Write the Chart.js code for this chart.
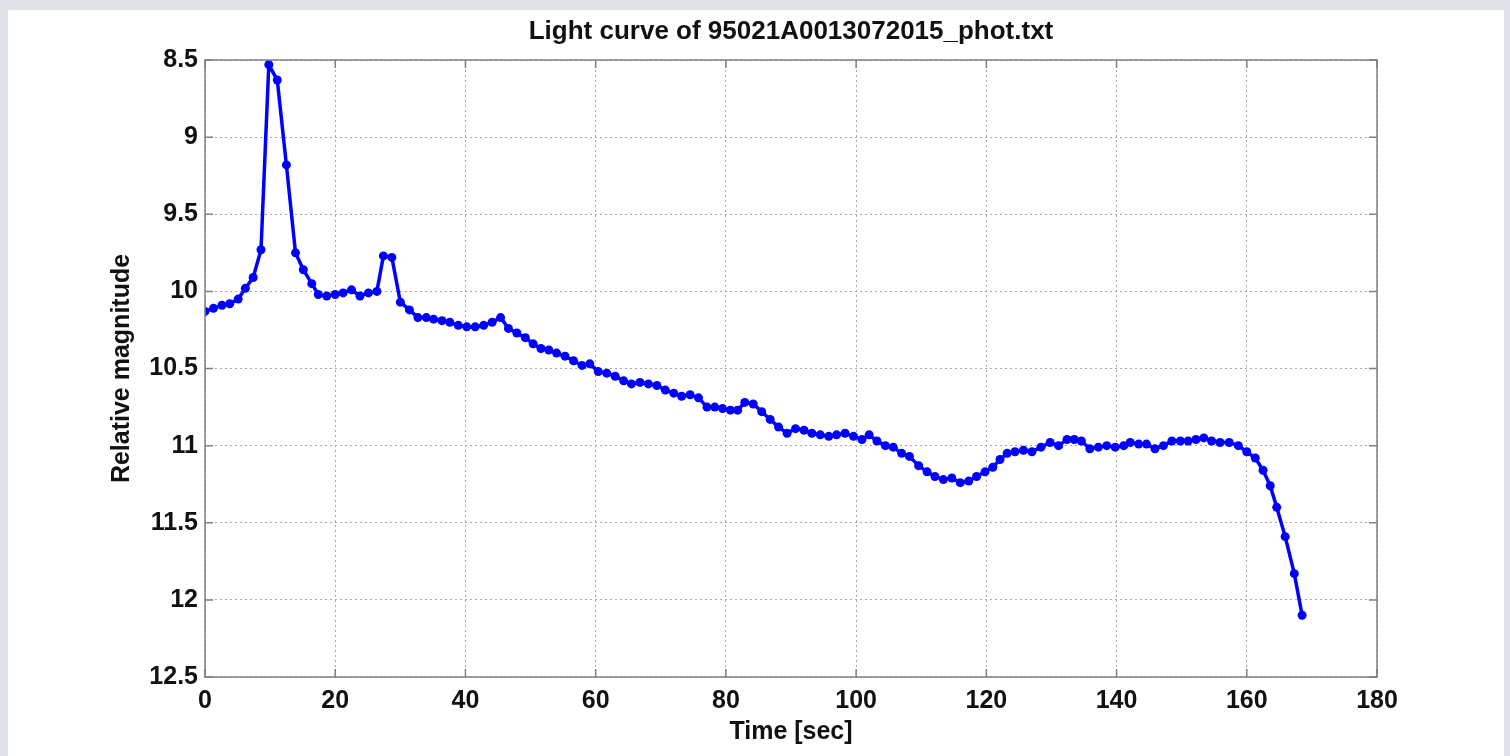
<!DOCTYPE html>
<html>
<head>
<meta charset="utf-8">
<script src="https://cdn.jsdelivr.net/npm/chart.js@4"></script>
<style>
  html, body { margin: 0; padding: 0; background: #dfe3e8; overflow: hidden; }
  #panel { position: absolute; left: 8px; top: 10px; right: 6px; bottom: 0; background: #ffffff; }
  #wrap { position: absolute; left: 0; top: 0; width: 1510px; height: 756px; }
</style>
</head>
<body>
<div id="panel"></div>
<div id="wrap"><canvas id="Grafico" width="1510" height="756"></canvas></div>
<script>
const titulo = 'Light curve of 95021A0013072015_phot.txt';
const etiqueta_x = 'Time [sec]';
const etiqueta_y = 'Relative magnitude';

const tiempos = [
    0, 1.3, 2.6, 3.8, 5.1, 6.2, 7.4, 8.6, 9.8, 11.1, 12.5, 13.9, 15.1, 16.4, 17.4, 18.7,
    20.0, 21.2, 22.5, 23.8, 25.1, 26.4, 27.4, 28.7, 30.0, 31.4, 32.7, 34.0, 35.1, 36.4, 37.6, 38.9,
    40.2, 41.5, 42.8, 44.1, 45.4, 46.6, 47.9, 49.2, 50.4, 51.6, 52.8, 54.0, 55.3, 56.6, 57.9, 59.1,
    60.4, 61.7, 63.0, 64.3, 65.5, 66.8, 68.1, 69.4, 70.7, 72.0, 73.2, 74.5, 75.8, 77.1, 78.3, 79.5,
    80.7, 81.8, 82.9, 84.2, 85.5, 86.8, 88.1, 89.4, 90.7, 92.0, 93.2, 94.5, 95.8, 97.0, 98.3, 99.6,
    100.9, 102.0, 103.2, 104.5, 105.7, 107.0, 108.2, 109.6, 110.9, 112.1, 113.4, 114.7, 116.0, 117.3, 118.5, 119.8,
    121.0, 122.1, 123.2, 124.4, 125.7, 127.0, 128.4, 129.8, 131.1, 132.4, 133.5, 134.6, 135.9, 137.2, 138.5, 139.8,
    141.1, 142.1, 143.4, 144.6, 145.9, 147.2, 148.5, 149.8, 151.0, 152.2, 153.4, 154.6, 155.9, 157.3, 158.7, 160.0,
    161.3, 162.5, 163.6, 164.6, 165.9, 167.3, 168.5
];

const magnitudes = [
    10.13, 10.11, 10.09, 10.08, 10.05, 9.98, 9.91, 9.73, 8.53, 8.63, 9.18, 9.75, 9.86, 9.95, 10.02, 10.03,
    10.02, 10.01, 9.99, 10.03, 10.01, 10.00, 9.77, 9.78, 10.07, 10.12, 10.17, 10.17, 10.18, 10.19, 10.20, 10.22,
    10.23, 10.23, 10.22, 10.20, 10.17, 10.24, 10.27, 10.30, 10.34, 10.37, 10.38, 10.40, 10.42, 10.45, 10.48, 10.47,
    10.52, 10.53, 10.55, 10.58, 10.60, 10.59, 10.60, 10.61, 10.64, 10.66, 10.68, 10.67, 10.69, 10.75, 10.75, 10.76,
    10.77, 10.77, 10.72, 10.73, 10.78, 10.83, 10.88, 10.92, 10.89, 10.90, 10.92, 10.93, 10.94, 10.93, 10.92, 10.94,
    10.96, 10.93, 10.97, 11.00, 11.01, 11.05, 11.07, 11.13, 11.17, 11.20, 11.22, 11.21, 11.24, 11.23, 11.20, 11.17,
    11.14, 11.09, 11.05, 11.04, 11.03, 11.04, 11.01, 10.98, 11.00, 10.96, 10.96, 10.97, 11.02, 11.01, 11.00, 11.01,
    11.00, 10.98, 10.99, 10.99, 11.02, 11.00, 10.97, 10.97, 10.97, 10.96, 10.95, 10.97, 10.98, 10.98, 11.00, 11.04,
    11.08, 11.16, 11.26, 11.40, 11.59, 11.83, 12.10
];

const x_min = 0, x_max = 180, x_paso = 20;
const y_min = 8.5, y_max = 12.5, y_paso = 0.5;

const puntos = [];
for (let i = 0; i < tiempos.length; i++) {
    puntos.push({ x: tiempos[i], y: magnitudes[i] });
}

// caja, marcas hacia adentro (estilo matlab) y titulo centrado sobre el area del grafico
const cajaPlugin = {
    id: 'caja',
    afterDraw(chart) {
        const ctx = chart.ctx;
        const a = chart.chartArea;
        const sx = chart.scales.x;
        const sy = chart.scales.y;
        const largo = 8;
        ctx.save();
        ctx.strokeStyle = '#808080';
        ctx.lineWidth = 1.5;
        ctx.strokeRect(a.left, a.top, a.right - a.left, a.bottom - a.top);
        ctx.beginPath();
        sx.ticks.forEach((t) => {
            const px = sx.getPixelForValue(t.value);
            ctx.moveTo(px, a.bottom); ctx.lineTo(px, a.bottom - largo);
            ctx.moveTo(px, a.top); ctx.lineTo(px, a.top + largo);
        });
        sy.ticks.forEach((t) => {
            const py = sy.getPixelForValue(t.value);
            ctx.moveTo(a.left, py); ctx.lineTo(a.left + largo, py);
            ctx.moveTo(a.right, py); ctx.lineTo(a.right - largo, py);
        });
        ctx.stroke();

        ctx.fillStyle = '#111111';
        ctx.font = "bold 26px 'Liberation Sans', Arial, sans-serif";
        ctx.textAlign = 'center';
        ctx.textBaseline = 'middle';
        ctx.fillText(titulo, (a.left + a.right) / 2, 32);
        ctx.restore();
    }
};

const fuente = "'Liberation Sans', Arial, sans-serif";
Chart.defaults.font.family = fuente;
Chart.defaults.color = '#111111';

const ctx = document.getElementById('Grafico');
new Chart(ctx, {
    type: 'line',
    data: {
        datasets: [{
            label: titulo,
            data: puntos,
            borderColor: '#0000ff',
            backgroundColor: '#0000ff',
            borderWidth: 3.5,
            pointRadius: 4.5,
            pointBorderWidth: 0,
            pointHoverRadius: 4.5,
            tension: 0
        }]
    },
    options: {
        responsive: false,
        animation: false,
        layout: { padding: { left: 100, right: 133, top: 60, bottom: 0 } },
        plugins: {
            legend: { display: false },
            tooltip: { enabled: false },
            title: { display: false }
        },
        scales: {
            x: {
                type: 'linear',
                min: x_min,
                max: x_max,
                afterFit: (scale) => { scale.height = 79; },
                ticks: { stepSize: x_paso, padding: 9, font: { size: 25, weight: 'bold' }, color: '#111111', maxRotation: 0 },
                grid: { color: '#a8a8a8', lineWidth: 1, drawTicks: false },
                border: { display: false, dash: [2, 3] },
                title: { display: true, text: etiqueta_x, font: { size: 25, weight: 'bold' }, color: '#111111', padding: { top: 0, bottom: 9 } }
            },
            y: {
                type: 'linear',
                reverse: true,
                min: y_min,
                max: y_max,
                afterFit: (scale) => { scale.width = 105; },
                ticks: {
                    stepSize: y_paso,
                    padding: 7,
                    font: { size: 25, weight: 'bold' },
                    color: '#111111',
                    callback: (valor) => String(Math.round(valor * 10) / 10)
                },
                grid: { color: '#a8a8a8', lineWidth: 1, drawTicks: false },
                border: { display: false, dash: [2, 3] },
                title: { display: true, text: etiqueta_y, font: { size: 25, weight: 'bold' }, color: '#111111', padding: { top: 7, bottom: 0 } }
            }
        }
    },
    plugins: [cajaPlugin]
});
</script>
</body>
</html>
